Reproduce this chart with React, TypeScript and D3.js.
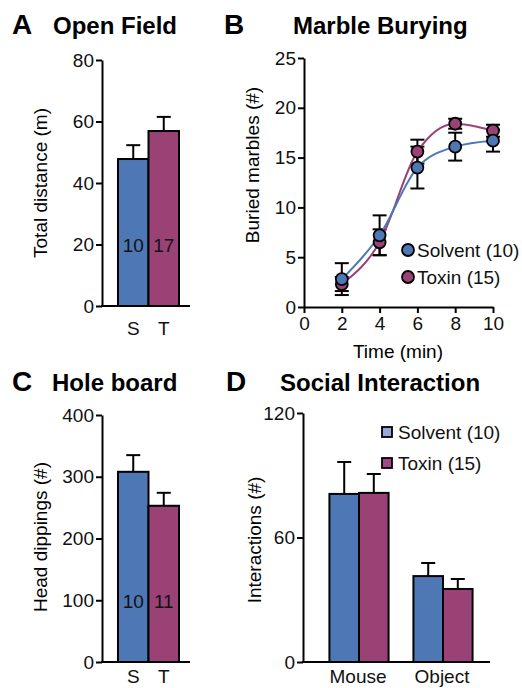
import React, { useRef, useEffect } from "react";
import * as d3 from "d3";

// Open field / hole board (S = solvent, T = toxin)
const groups = ["S", "T"];
const openFieldMean = [47.8, 56.9];
const openFieldSem = [4.5, 4.6];
const openFieldN = ["10", "17"];
const openFieldTicks = [0, 20, 40, 60, 80];

const holeBoardMean = [308, 253];
const holeBoardSem = [27, 21];
const holeBoardN = ["10", "11"];
const holeBoardTicks = [0, 100, 200, 300, 400];

// Marble burying
const timeMin = [2, 4, 6, 8, 10];
const timeTicks = [0, 2, 4, 6, 8, 10];
const marbleTicks = [0, 5, 10, 15, 20, 25];
const solventMarbles = [2.8, 7.2, 14.0, 16.1, 16.7];
const solventMarblesSem = [1.6, 2.0, 2.1, 1.4, 1.1];
const toxinMarbles = [2.3, 6.5, 15.6, 18.4, 17.7];
const toxinMarblesSem = [0.7, 1.3, 1.2, 0.5, 0.6];

// Social interaction
const socialGroups = ["Mouse", "Object"];
const seriesNames = ["Solvent (10)", "Toxin (15)"];
const solventSocial = [81, 41.4];
const solventSocialSem = [15.4, 6.3];
const toxinSocial = [81.5, 35.2];
const toxinSocialSem = [9.1, 4.8];
const socialTicks = [0, 60, 120];

const BLUE = "#4d77b5";
const PURPLE = "#9a4276";
const FONT = "'Liberation Sans', Arial, Helvetica, sans-serif";

const App = () => {
    const ref = useRef<SVGSVGElement | null>(null);

    useEffect(() => {
        const svg = d3.select(ref.current);
        svg.selectAll("*").remove();
        svg.attr("font-family", FONT);

        const title = (x: number, y: number, letter: string, tx: number, text: string) => {
            svg.append("text").attr("x", x).attr("y", y).attr("font-size", 28)
                .attr("font-weight", "bold").text(letter);
            svg.append("text").attr("x", tx).attr("y", y).attr("font-size", 24)
                .attr("font-weight", "bold").text(text);
        };

        const yLabel = (x: number, y: number, text: string) => {
            svg.append("text")
                .attr("transform", `translate(${x},${y}) rotate(-90)`)
                .attr("text-anchor", "middle")
                .attr("dominant-baseline", "central")
                .attr("font-size", 19)
                .text(text);
        };

        const yAxis = (x: number, y: d3.ScaleLinear<number, number>, ticks: number[]) => {
            const g = svg.append("g").attr("transform", `translate(${x},0)`)
                .call(d3.axisLeft(y).tickValues(ticks).tickSize(6).tickSizeOuter(0).tickPadding(2));
            g.select(".domain").attr("stroke-width", 2);
            g.selectAll(".tick line").attr("stroke-width", 2);
            g.selectAll(".tick text").attr("font-size", 19).attr("font-family", FONT).attr("fill", "#111");
            return g;
        };

        const xLine = (x1: number, x2: number, y: number) => {
            svg.append("line").attr("x1", x1 - 1).attr("x2", x2)
                .attr("y1", y).attr("y2", y)
                .attr("stroke", "#000").attr("stroke-width", 2);
        };

        // bar with upward error bar
        const bar = (x: number, w: number, y: d3.ScaleLinear<number, number>, v: number, e: number, fill: string) => {
            const cx = x + w / 2;
            svg.append("line").attr("x1", cx).attr("x2", cx)
                .attr("y1", y(v)).attr("y2", y(v + e))
                .attr("stroke", "#000").attr("stroke-width", 2);
            svg.append("line").attr("x1", cx - 7).attr("x2", cx + 7)
                .attr("y1", y(v + e)).attr("y2", y(v + e))
                .attr("stroke", "#000").attr("stroke-width", 2);
            svg.append("rect").attr("x", x).attr("y", y(v))
                .attr("width", w).attr("height", y(0) - y(v))
                .attr("fill", fill).attr("stroke", "#000").attr("stroke-width", 2);
        };

        // Two-bar panels (A and C)
        const twoBar = (
            yTop: number, yBottom: number, max: number, ticks: number[],
            means: number[], sems: number[], ns: string[], label: string, labelY: number, sty: number
        ) => {
            const y = d3.scaleLinear().domain([0, max]).range([yBottom, yTop]);
            const x = d3.scaleBand().domain(groups).range([118, 179]).padding(0);
            yAxis(102, y, ticks);
            groups.forEach((gname, i) => {
                bar(x(gname)!, x.bandwidth(), y, means[i], sems[i], i === 0 ? BLUE : PURPLE);
                svg.append("text").attr("x", x(gname)! + x.bandwidth() / 2)
                    .attr("y", yBottom - 61).attr("text-anchor", "middle")
                    .attr("dominant-baseline", "central").attr("font-size", 19)
                    .attr("fill", "#111").text(ns[i]);
                svg.append("text").attr("x", x(gname)! + x.bandwidth() / 2)
                    .attr("y", sty).attr("text-anchor", "middle")
                    .attr("dominant-baseline", "central").attr("font-size", 19)
                    .attr("fill", "#111").text(gname);
            });
            xLine(102, 190, yBottom);
            yLabel(40, labelY, label);
        };

        // A
        title(12, 34, "A", 53, "Open Field");
        twoBar(60, 306, 80, openFieldTicks, openFieldMean, openFieldSem, openFieldN, "Total distance (m)", 183, 328);

        // C
        title(12, 391, "C", 52, "Hole board");
        twoBar(415, 662, 400, holeBoardTicks, holeBoardMean, holeBoardSem, holeBoardN, "Head dippings (#)", 537, 676);

        // B: marble burying
        title(224, 34, "B", 293, "Marble Burying");
        {
            const x = d3.scaleLinear().domain([0, 10]).range([304, 493]);
            const y = d3.scaleLinear().domain([0, 25]).range([307, 58]);
            yAxis(304, y, marbleTicks);
            const gx = svg.append("g").attr("transform", `translate(0,${y(0)})`)
                .call(d3.axisBottom(x).tickValues(timeTicks).tickSize(6).tickSizeOuter(0).tickPadding(4));
            gx.select(".domain").attr("stroke-width", 2);
            gx.selectAll(".tick line").attr("stroke-width", 2);
            gx.selectAll(".tick text").attr("font-size", 19).attr("font-family", FONT).attr("fill", "#111");

            svg.append("text").attr("x", 398).attr("y", 351).attr("text-anchor", "middle")
                .attr("dominant-baseline", "central").attr("font-size", 19).text("Time (min)");
            yLabel(252, 165, "Buried marbles (#)");

            const series = [
                { vals: toxinMarbles, sems: toxinMarblesSem, color: PURPLE },
                { vals: solventMarbles, sems: solventMarblesSem, color: BLUE },
            ];
            const line = d3.line<number>()
                .x((_, i) => x(timeMin[i]))
                .y((d) => y(d))
                .curve(d3.curveMonotoneX);

            series.forEach((s) => {
                s.vals.forEach((v, i) => {
                    const cx = x(timeMin[i]);
                    const lo = y(v - s.sems[i]);
                    const hi = y(v + s.sems[i]);
                    svg.append("line").attr("x1", cx).attr("x2", cx).attr("y1", lo).attr("y2", hi)
                        .attr("stroke", "#000").attr("stroke-width", 2);
                    [lo, hi].forEach((yy) => {
                        svg.append("line").attr("x1", cx - 7).attr("x2", cx + 7).attr("y1", yy).attr("y2", yy)
                            .attr("stroke", "#000").attr("stroke-width", 2);
                    });
                });
            });
            series.forEach((s) => {
                svg.append("path").datum(s.vals).attr("fill", "none")
                    .attr("stroke", s.color).attr("stroke-width", 2).attr("d", line);
            });
            series.forEach((s) => {
                s.vals.forEach((v, i) => {
                    svg.append("circle").attr("cx", x(timeMin[i])).attr("cy", y(v)).attr("r", 6)
                        .attr("fill", s.color).attr("stroke", "#000").attr("stroke-width", 1.8);
                });
            });

            // legend
            [BLUE, PURPLE].forEach((c, i) => {
                const ly = 250 + i * 27;
                svg.append("circle").attr("cx", 408).attr("cy", ly).attr("r", 6)
                    .attr("fill", c).attr("stroke", "#000").attr("stroke-width", 1.8);
                svg.append("text").attr("x", 417).attr("y", ly).attr("dominant-baseline", "central")
                    .attr("font-size", 19).attr("fill", "#111").text(seriesNames[i]);
            });
        }

        // D: social interaction
        title(226, 391, "D", 280, "Social Interaction");
        {
            const y = d3.scaleLinear().domain([0, 120]).range([662, 413]);
            const x0 = d3.scaleBand().domain(socialGroups).range([317, 485]).padding(0);
            const x1 = d3.scaleBand().domain(seriesNames).range([0, x0.bandwidth()]).paddingOuter(0.42).paddingInner(0);
            yAxis(303, y, socialTicks);
            const data = [
                { vals: solventSocial, sems: solventSocialSem, color: BLUE },
                { vals: toxinSocial, sems: toxinSocialSem, color: PURPLE },
            ];
            socialGroups.forEach((gname, gi) => {
                data.forEach((s, si) => {
                    bar(x0(gname)! + x1(seriesNames[si])!, x1.bandwidth(), y, s.vals[gi], s.sems[gi], s.color);
                });
                svg.append("text").attr("x", x0(gname)! + x0.bandwidth() / 2 - 1).attr("y", 676)
                    .attr("text-anchor", "middle").attr("dominant-baseline", "central")
                    .attr("font-size", 19).attr("fill", "#111").text(gname);
            });
            xLine(303, 490, y(0));
            yLabel(254, 540, "Interactions (#)");

            ["#9aa6d8", "#a24785"].forEach((c, i) => {
                const ly = 432 + i * 31;
                svg.append("rect").attr("x", 382).attr("y", ly - 5).attr("width", 10).attr("height", 10)
                    .attr("fill", c).attr("stroke", "#000").attr("stroke-width", 1.8);
                svg.append("text").attr("x", 398).attr("y", ly).attr("dominant-baseline", "central")
                    .attr("font-size", 19).attr("fill", "#111").text(seriesNames[i]);
            });
        }
    }, []);

    return (
        <div style={{ position: "absolute", left: 0, top: 0 }}>
            <svg ref={ref} width={522} height={688} viewBox="0 0 522 688" style={{ display: "block", background: "#fff" }} />
        </div>
    );
};

export default App;
